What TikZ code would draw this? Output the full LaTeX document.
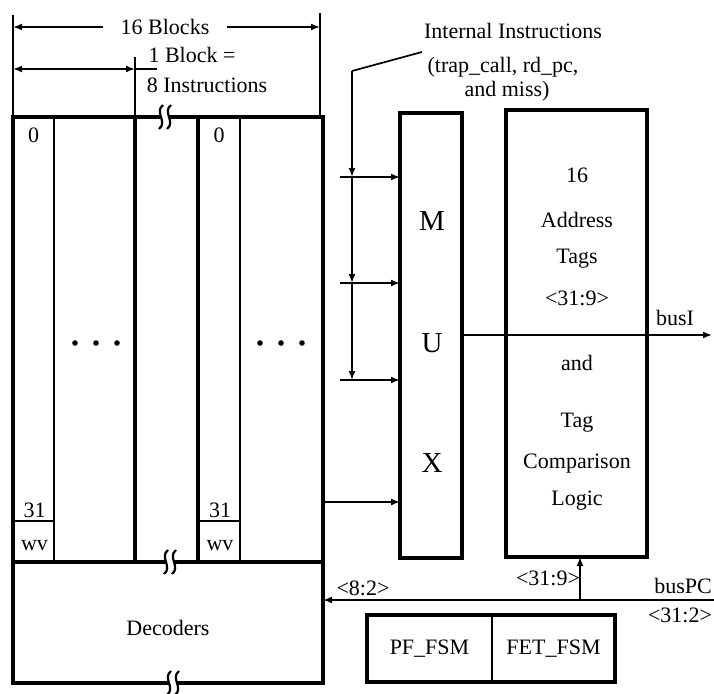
\documentclass[tikz,border=0pt]{standalone}
\usepackage{fontspec}
\setmainfont{Liberation Serif}
\usetikzlibrary{arrows.meta,positioning}

\begin{document}
\begin{tikzpicture}[
  x=1pt, y=-1pt,
  heavy/.style={line width=3.4pt},
  light/.style={line width=1.7pt},
  box node/.style={draw, heavy, inner sep=0pt, outer sep=0pt, anchor=north west,
    font=\fontsize{22}{26}\selectfont},
  cell node/.style={draw, light, inner sep=0pt, outer sep=0pt, anchor=north west,
    font=\fontsize{22}{26}\selectfont},
  label node/.style={inner sep=0pt, anchor=base, font=\fontsize{22}{26}\selectfont},
  mux letter/.style={inner sep=0pt, anchor=base, font=\fontsize{29}{33}\selectfont},
  signal/.style={light, -{Latex[length=9pt,width=7pt]}},
  both signal/.style={light, {Latex[length=9pt,width=7pt]}-{Latex[length=9pt,width=7pt]}},
]
  \useasboundingbox (0,0) rectangle (714,693);

  % Break mark: two small waves, line cut between them
  \newcommand*{\BreakMark}[2]{%
    \fill[white] (#1-4,#2-3) rectangle (#1+4,#2+3);
    \foreach \dx in {-4,4} {
      \draw[line width=2.2pt]
        (#1+\dx+2,#2-12) .. controls (#1+\dx-7,#2-5) and (#1+\dx+7,#2+5) .. (#1+\dx-2,#2+12);
    }
  }

  % Main blocks
  \node[box node, minimum width=310pt, minimum height=445pt] (array) at (13,117) {};
  \node[box node, minimum width=310pt, minimum height=121pt,
    text height=26pt, text depth=0pt] (dec) at (13,562) {Decoders};
  \node[box node, minimum width=62pt, minimum height=445pt] (mux) at (400,113) {};
  \node[box node, minimum width=141pt, minimum height=447pt] (tags) at (506,110) {};

  % Fetch state machines
  \node[cell node, minimum width=125pt, minimum height=67pt] (pf) at (367,615) {PF\_FSM};
  \node[cell node, minimum width=123pt, minimum height=67pt] (fet) at (pf.north east) {FET\_FSM};
  \draw[heavy] (pf.north west) rectangle (fet.south east);

  % Columns of the two shown blocks
  \foreach \x/\w in {54/light, 135/heavy, 198/heavy, 240/light} {
    \draw[\w] (\x,117) -- (\x,562);
  }
  \foreach \l/\r [count=\i] in {13/54, 198/240} {
    \node[label node] (zero\i) at ({(\l+\r)/2},142) {0};
    \node[label node] (last\i) at ({(\l+\r)/2+1},517) {31};
    \draw[light] (\l,521) -- (\r,521);
    \node[label node] (wv\i) at ({(\l+\r)/2+1},550) {wv};
  }
  \foreach \x in {75,96,117,260,281,302} {
    \fill (\x,343) circle[radius=2.8pt];
  }

  \BreakMark{165}{117}
  \BreakMark{170}{562}
  \BreakMark{173}{683}

  % Dimension: 16 blocks
  \coordinate (dimL) at (13,27);
  \coordinate (dimR) at (320,27);
  \draw[light] (13,15) -- (array.north west);
  \draw[light] (320,13) -- (320,117);
  \node[label node, anchor=center, inner xsep=17pt] (blocks) at (165,27) {16 Blocks};
  \draw[signal] (blocks.west) -- (dimL);
  \draw[signal] (blocks.east) -- (dimR);

  % Dimension: 1 block
  \coordinate (oneL) at (13,69);
  \coordinate (oneR) at (135,69);
  \draw[both signal] (oneL) -- (oneR);
  \draw[light] (oneR) -- (157,69);
  \draw[light] (135,57) -- (135,117);
  \node[label node] (oneblk) at (192,63) {1 Block =};
  \node[label node] (eightins) at (207,92) {8 Instructions};

  % Internal instructions into the MUX
  \node[label node] (intl) at (513,38) {Internal Instructions};
  \node[label node] (trap) at (503,72) {(trap\_call, rd\_pc,};
  \node[label node] (miss) at (507,96) {and miss)};
  \coordinate (lead) at (422,52);
  \coordinate (bend) at (352,71);
  \foreach \y [count=\i] in {177,283,380} {
    \coordinate (tap\i) at (352,\y);
    \coordinate (src\i) at (340,\y);
  }
  \draw[light] (lead) -- (bend);
  \draw[signal] (bend) -- (tap1);
  \draw[signal] (tap1) -- (tap2);
  \draw[signal] (tap2) -- (tap3);
  \foreach \i in {1,2,3} {
    \draw[signal] (src\i) -- (src\i -| mux.west);
  }

  % Cache output into the MUX
  \coordinate (arrOut) at (323,502);
  \draw[signal] (arrOut) -- (arrOut -| mux.west);

  % MUX label
  \foreach \t/\y in {M/230, U/352, X/472} {
    \node[mux letter] (mux\t) at (432,\y) {\t};
  }

  % Tag box text
  \foreach \t/\y [count=\i] in {16/182, Address/227, Tags/263, {<31:9>}/305,
      and/370, Tag/427, Comparison/468, Logic/505} {
    \node[label node] (tag\i) at (577,\y) {\t};
  }

  % busI
  \coordinate (busI) at (712,335);
  \draw[signal] (busI -| mux.east) -- (busI);
  \node[label node] (busIlbl) at (675,325) {busI};

  % busPC
  \coordinate (busPC) at (714,600);
  \coordinate (tagTap) at (580,600);
  \draw[signal] (busPC) -- (busPC -| dec.east);
  \draw[signal] (tagTap) -- (tagTap |- tags.south);
  \node[label node] (idx) at (363,595) {<8:2>};
  \node[label node] (tagbits) at (548,585) {<31:9>};
  \node[label node] (busPClbl) at (683,593) {busPC};
  \node[label node] (pcbits) at (680,622) {<31:2>};

\end{tikzpicture}
\end{document}
